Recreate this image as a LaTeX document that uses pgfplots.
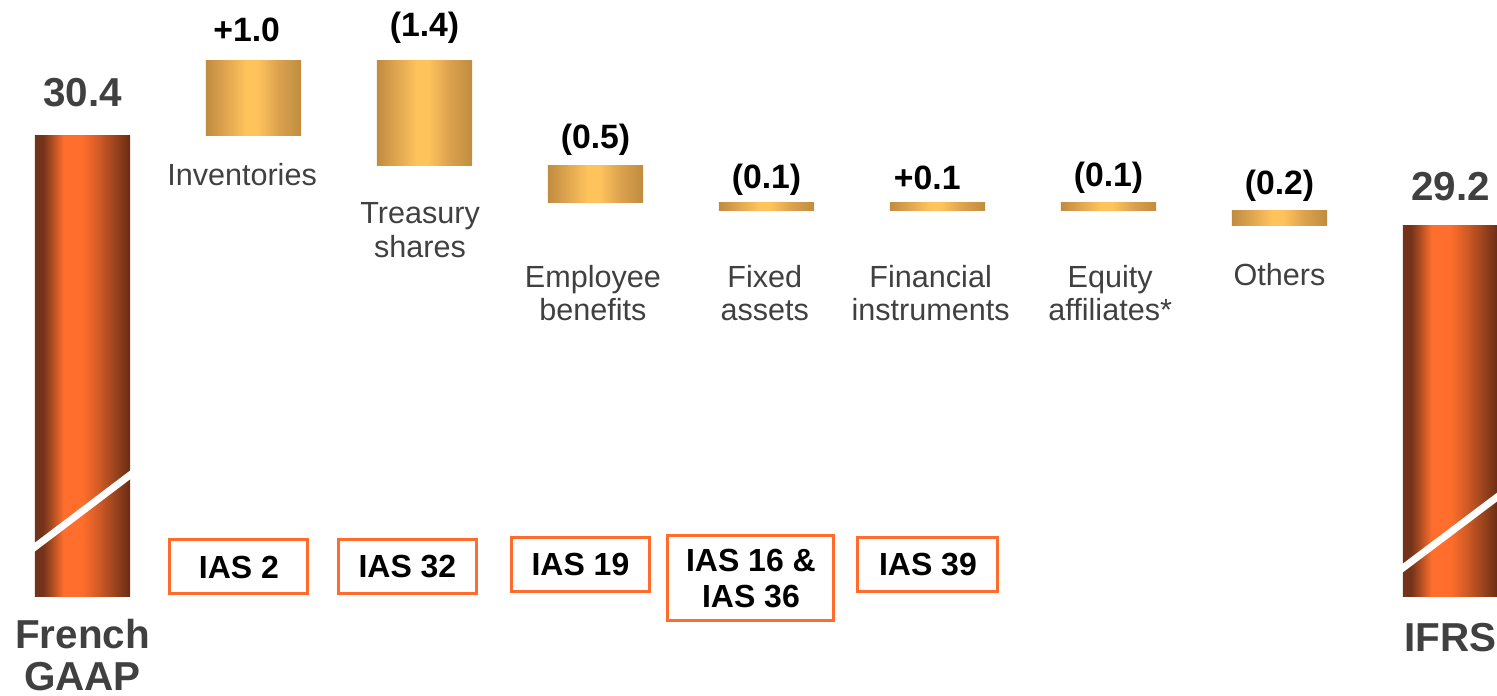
\documentclass[border=0pt]{standalone}
\usepackage{pgfplots}
\pgfplotsset{compat=1.18}
\usepackage{fontspec}
\setmainfont{Liberation Sans}
\definecolor{cdark}{HTML}{73321A}
\definecolor{cdark2}{HTML}{6A2C12}
\definecolor{cmid}{HTML}{A0471F}
\definecolor{cmid2}{HTML}{D45B25}
\definecolor{corange}{HTML}{FF6E2C}
\definecolor{gdark}{HTML}{C08C40}
\definecolor{gmid}{HTML}{DCA24E}
\definecolor{glight}{HTML}{FFC35C}
\definecolor{boxor}{HTML}{FF6C2C}
\definecolor{txtgray}{HTML}{404040}
\pgfdeclarehorizontalshading{copper}{100bp}{color(0bp)=(cdark); color(25bp)=(cdark); color(29bp)=(cdark); color(33bp)=(cmid); color(40bp)=(corange); color(50bp)=(corange); color(58bp)=(cmid2); color(66bp)=(cmid); color(75bp)=(cdark2); color(100bp)=(cdark2)}
\pgfdeclarehorizontalshading{gold}{100bp}{color(0bp)=(gdark); color(25bp)=(gdark); color(34bp)=(gmid); color(46bp)=(glight); color(52bp)=(glight); color(63bp)=(gmid); color(75bp)=(gdark); color(100bp)=(gdark)}
\newcommand\lab{\fontsize{8.7}{9.6}\selectfont}
\newcommand\val{\fontsize{9.6}{10}\selectfont\bfseries}
\newcommand\tot{\fontsize{11.5}{12}\selectfont\bfseries}
\newcommand\ias{\fontsize{9.1}{10.2}\selectfont\bfseries}
\begin{document}
\begin{tikzpicture}
\begin{axis}[name=main, hide axis, scale only axis, width=149.7mm, height=69.5mm,
  xmin=-0.4825, xmax=8.2719, ymin=22.9333, ymax=32.2]
% each bar: corners from (category -/+ half bar width, start value) to (.., end value)
% French GAAP total 30.4 (axis broken, bar drawn from 24.24)
\addplot[draw=none, shading=copper] coordinates {(-0.278,24.24) (0.278,24.24) (0.278,30.4) (-0.278,30.4)};
% Inventories +1.0 : 30.4 -> 31.4
\addplot[draw=none, shading=gold] coordinates {(0.722,30.4) (1.278,30.4) (1.278,31.4) (0.722,31.4)};
% Treasury shares (1.4) : 31.4 -> 30.0
\addplot[draw=none, shading=gold] coordinates {(1.722,30.0) (2.278,30.0) (2.278,31.4) (1.722,31.4)};
% Employee benefits (0.5) : 30.0 -> 29.5
\addplot[draw=none, shading=gold] coordinates {(2.722,29.5) (3.278,29.5) (3.278,30.0) (2.722,30.0)};
% Fixed assets (0.1) : 29.5 -> 29.4
\addplot[draw=none, shading=gold] coordinates {(3.722,29.4) (4.278,29.4) (4.278,29.5) (3.722,29.5)};
% Financial instruments +0.1 : 29.4 -> 29.5
\addplot[draw=none, shading=gold] coordinates {(4.722,29.4) (5.278,29.4) (5.278,29.5) (4.722,29.5)};
% Equity affiliates (0.1) : 29.5 -> 29.4
\addplot[draw=none, shading=gold] coordinates {(5.722,29.4) (6.278,29.4) (6.278,29.5) (5.722,29.5)};
% Others (0.2) : 29.4 -> 29.2
\addplot[draw=none, shading=gold] coordinates {(6.722,29.2) (7.278,29.2) (7.278,29.4) (6.722,29.4)};
% IFRS total 29.2
\addplot[draw=none, shading=copper] coordinates {(7.722,24.24) (8.278,24.24) (8.278,29.2) (7.722,29.2)};
% axis-break stripes
\draw[white, line width=0.7mm] (axis cs:-0.3,24.869) -- (axis cs:0.3,25.905);
\draw[white, line width=0.7mm] (axis cs:7.70,24.59) -- (axis cs:8.3,25.62);
\node[text=txtgray, font=\tot] at (axis cs:0,30.96) {30.4};
\node[text=txtgray, font=\tot] at (axis cs:8,29.707) {29.2};
\node[text=txtgray, font=\tot, align=center] at (axis cs:0,23.467) {French\\GAAP};
\node[text=txtgray, font=\tot] at (axis cs:8,23.693) {IFRS};
\node[font=\val] at (axis cs:0.96,31.80) {+1.0};
\node[font=\val] at (axis cs:2,31.83) {(1.4)};
\node[font=\val] at (axis cs:3,30.333) {(0.5)};
\node[font=\val] at (axis cs:4,29.80) {(0.1)};
\node[font=\val] at (axis cs:4.94,29.827) {+0.1};
\node[font=\val] at (axis cs:6,29.827) {(0.1)};
\node[font=\val] at (axis cs:7,29.72) {(0.2)};
\node[text=txtgray, font=\lab] at (axis cs:0.933,29.867) {Inventories};
\node[text=txtgray, font=\lab, align=center] at (axis cs:1.974,29.127) {Treasury\\shares};
\node[text=txtgray, font=\lab, align=center] at (axis cs:2.985,28.293) {Employee\\benefits};
\node[text=txtgray, font=\lab, align=center] at (axis cs:3.99,28.293) {Fixed\\assets};
\node[text=txtgray, font=\lab, align=center] at (axis cs:4.96,28.293) {Financial\\instruments};
\node[text=txtgray, font=\lab, align=center] at (axis cs:6.01,28.293) {Equity\\affiliates*};
\node[text=txtgray, font=\lab] at (axis cs:7,28.533) {Others};
\tikzset{iasbox/.style={draw=boxor, line width=0.3mm, inner sep=0pt, font=\ias, align=center, minimum height=5.4mm, minimum width=13.8mm}}
\node[iasbox] at (axis cs:0.915,24.64) {IAS 2};
\node[iasbox] at (axis cs:1.90,24.64) {IAS 32};
\node[iasbox] at (axis cs:2.912,24.667) {IAS 19};
\node[iasbox, minimum width=16.6mm, minimum height=8.5mm] at (axis cs:3.909,24.487) {IAS 16 \&\\IAS 36};
\node[iasbox, minimum width=14mm] at (axis cs:4.944,24.667) {IAS 39};
\end{axis}
\pgfresetboundingbox
\path (main.south west) rectangle (main.north east);
\end{tikzpicture}
\end{document}
